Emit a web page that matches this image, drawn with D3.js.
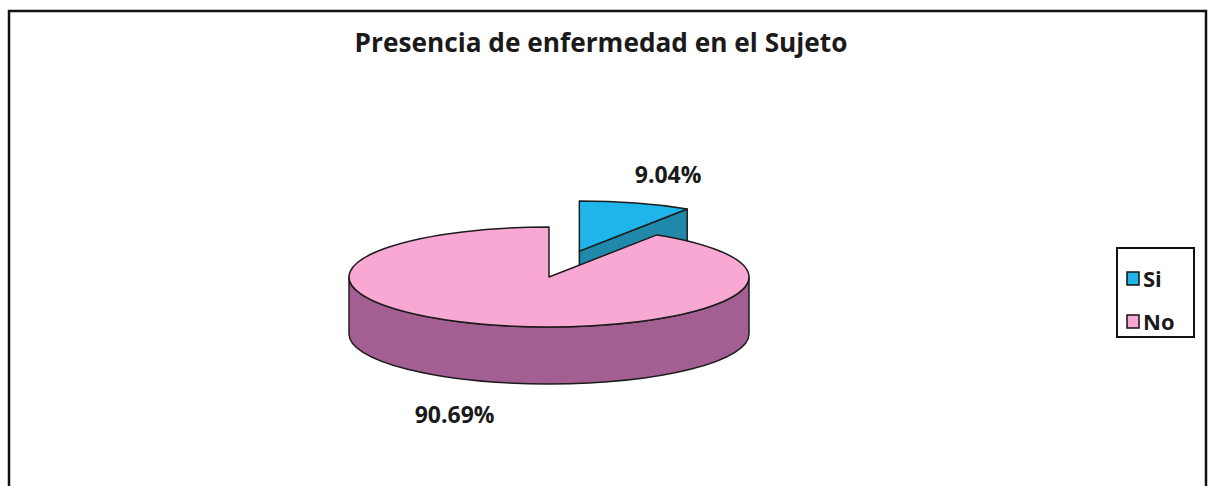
<!DOCTYPE html>
<html lang="es">
<head>
	<meta charset="UTF-8">
	<title>Presencia de enfermedad en el Sujeto</title>
	<script src="https://cdn.jsdelivr.net/npm/d3@7/dist/d3.min.js"></script>
	<style>
		body { margin: 0; background: #fff; }
		text { font-family: "Open Sans", "DejaVu Sans", sans-serif; font-weight: bold; fill: #1a1a1a; }
	</style>
</head>
<body>
	<div id="container"></div>
	<script>
		// data
		var categories = ["Si", "No"];
		var percents = [9.04, 90.69];
		var labels = ["9.04%", "90.69%"];
		var topColors = ["#20B5EA", "#F9A8D4"];
		var sideColors = ["#1F88AB", "#A35E92"];

		var width = 1209, height = 486;
		var svg = d3.select("#container").append("svg")
			.attr("width", width)
			.attr("height", height);

		// chart frame (no bottom edge visible in the original)
		svg.append("path")
			.attr("d", "M9,486 L9,11 L1206,11 L1206,486")
			.attr("fill", "none")
			.attr("stroke", "#111")
			.attr("stroke-width", 2.5);

		svg.append("text")
			.attr("x", 601)
			.attr("y", 52)
			.attr("text-anchor", "middle")
			.attr("font-size", 27)
			.attr("textLength", 493)
			.attr("lengthAdjust", "spacingAndGlyphs")
			.text("Presencia de enfermedad en el Sujeto");

		// 3d pie geometry
		var cx = 549, cy = 277, rx = 200, ry = 50, depth = 57, explode = 0.54;
		var outline = "#1c1c1c";

		var pie = d3.pie().sort(null).startAngle(0).endAngle(2 * Math.PI);
		var arcs = pie(percents);

		function pt(c, a, r, dz) {
			return [c[0] + r * rx * Math.sin(a), c[1] - r * ry * Math.cos(a) + (dz || 0)];
		}

		var slices = arcs.map(function(d, i) {
			var mid = (d.startAngle + d.endAngle) / 2;
			var e = i === 0 ? explode : 0;
			var c = [cx + e * rx * Math.sin(mid), cy - e * ry * Math.cos(mid)];
			return { d: d, i: i, mid: mid, c: c };
		});

		// back slices first
		slices.sort(function(a, b) { return a.c[1] - b.c[1]; });

		var g = svg.append("g");

		slices.forEach(function(s) {
			var a0 = s.d.startAngle, a1 = s.d.endAngle, c = s.c, i = s.i;

			// cut faces facing the viewer
			[[a0, -Math.sin(a0)], [a1, Math.sin(a1)]].forEach(function(f) {
				if (f[1] <= 0.001) return;
				var p = pt(c, f[0], 1);
				var path = d3.path();
				path.moveTo(c[0], c[1]);
				path.lineTo(p[0], p[1]);
				path.lineTo(p[0], p[1] + depth);
				path.lineTo(c[0], c[1] + depth);
				path.closePath();
				g.append("path")
					.attr("d", path.toString())
					.attr("fill", sideColors[i])
					.attr("stroke", outline)
					.attr("stroke-width", 1.5)
					.attr("stroke-linejoin", "round");
			});

			// outer wall, front half only
			var s0 = Math.max(a0, Math.PI / 2), s1 = Math.min(a1, 3 * Math.PI / 2);
			if (s1 > s0) {
				var p0 = pt(c, s0, 1), p1 = pt(c, s1, 1);
				var large = (s1 - s0) > Math.PI ? 1 : 0;
				var w = "M" + p0 + " A" + rx + "," + ry + " 0 " + large + ",1 " + p1 +
					" L" + p1[0] + "," + (p1[1] + depth) +
					" A" + rx + "," + ry + " 0 " + large + ",0 " + p0[0] + "," + (p0[1] + depth) + " Z";
				g.append("path")
					.attr("d", w)
					.attr("fill", sideColors[i])
					.attr("stroke", outline)
					.attr("stroke-width", 1.5)
					.attr("stroke-linejoin", "round");
			}

			// top face
			var t0 = pt(c, a0, 1), t1 = pt(c, a1, 1);
			var largeTop = (a1 - a0) > Math.PI ? 1 : 0;
			var top = "M" + c + " L" + t0 + " A" + rx + "," + ry + " 0 " + largeTop + ",1 " + t1 + " Z";
			g.append("path")
				.attr("d", top)
				.attr("fill", topColors[i])
				.attr("stroke", outline)
				.attr("stroke-width", 1.5)
				.attr("stroke-linejoin", "round");
		});

		// data labels
		slices.forEach(function(s) {
			var k = s.i === 0 ? 1.58 : 1.68;
			var p = pt(s.c, s.mid, k, Math.cos(s.mid) < 0 ? depth : 0);
			svg.append("text")
				.attr("x", p[0])
				.attr("y", p[1])
				.attr("dy", "0.35em")
				.attr("text-anchor", "middle")
				.attr("font-size", 23)
				.text(labels[s.i]);
		});

		// legend
		var legend = svg.append("g").attr("transform", "translate(1117,248)");
		legend.append("rect")
			.attr("width", 77)
			.attr("height", 89)
			.attr("fill", "#fff")
			.attr("stroke", "#111")
			.attr("stroke-width", 2);

		var item = legend.selectAll("g.item")
			.data(categories)
			.enter().append("g")
			.attr("class", "item")
			.attr("transform", function(d, i) { return "translate(10," + (24 + i * 43) + ")"; });

		item.append("rect")
			.attr("width", 12)
			.attr("height", 13)
			.attr("fill", function(d, i) { return topColors[i]; })
			.attr("stroke", "#111")
			.attr("stroke-width", 1.5);

		item.append("text")
			.attr("x", 16)
			.attr("y", 7)
			.attr("dy", "0.35em")
			.attr("font-size", 22)
			.text(function(d) { return d; });
	</script>
</body>
</html>
